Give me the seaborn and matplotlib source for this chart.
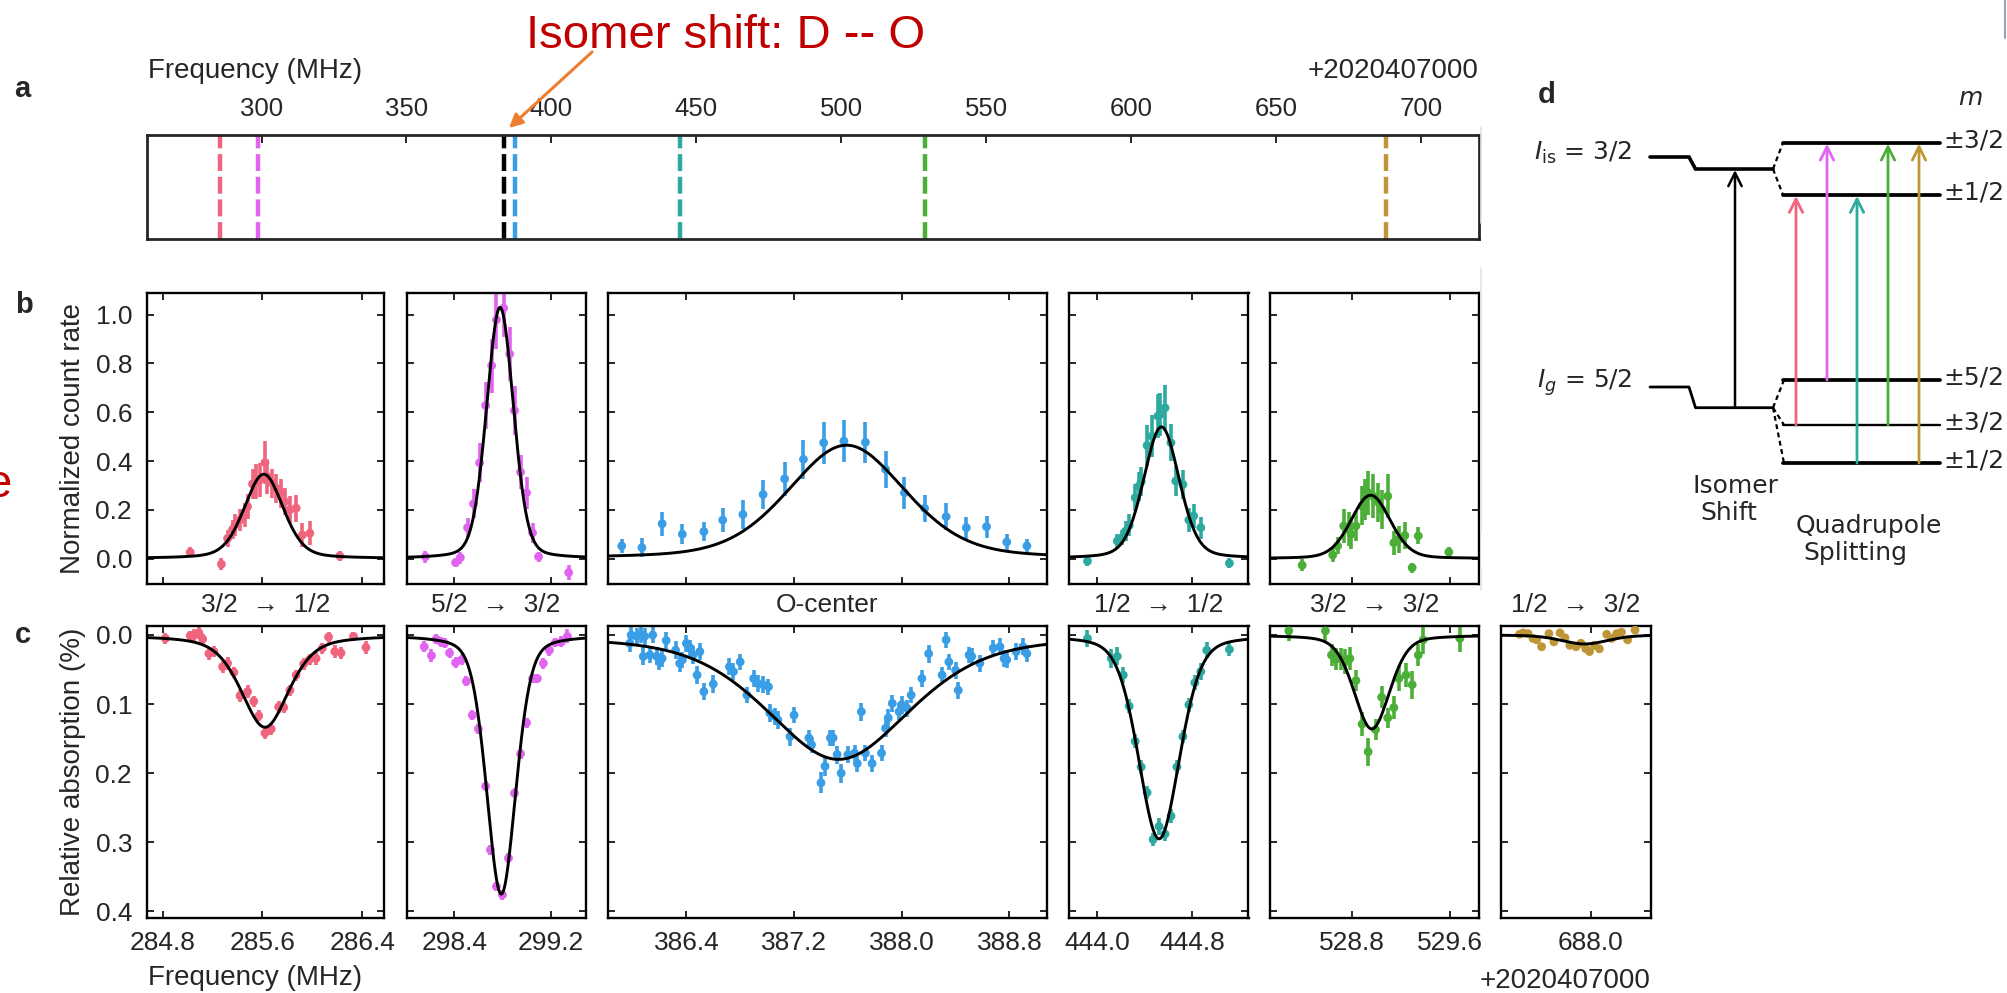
import numpy as np
import matplotlib
matplotlib.use("Agg")
import matplotlib.pyplot as plt
from matplotlib.ticker import MultipleLocator, FormatStrFormatter
import seaborn as sns

# ------------------------------------------------------------------ data
FREQ_OFFSET = "+2020407000"

# panel a: resonance positions (MHz, relative to offset)
overview_freq = [285.6, 298.8, 383.5, 387.5, 444.5, 528.9, 688.0]
overview_color = ["#F0647D", "#E164F0", "#000000", "#3A9EE6", "#2DAAA0", "#4BAF37", "#BE9637"]
overview_ticks = [300, 350, 400, 450, 500, 550, 600, 650, 700]

series_color = ["#F0647D", "#E164F0", "#3A9EE6", "#2DAAA0", "#4BAF37", "#BE9637"]
transition_labels = ["3/2  \u2192  1/2", "5/2  \u2192  3/2", "O-center",
                     "1/2  \u2192  1/2", "3/2  \u2192  3/2", "1/2  \u2192  3/2"]

# panel b: normalized count rate
b1_x = [285.02, 285.27, 285.32, 285.36, 285.38, 285.42, 285.46, 285.48, 285.52, 285.55, 285.58,
        285.62, 285.64, 285.68, 285.71, 285.75, 285.78, 285.82, 285.87, 285.92, 285.98, 286.22]
b1_y = [0.026, -0.023, 0.083, 0.12, 0.138, 0.159, 0.179, 0.213, 0.306, 0.316, 0.323,
        0.394, 0.336, 0.309, 0.289, 0.268, 0.234, 0.2, 0.207, 0.097, 0.104, 0.011]
b1_e = [0.02, 0.025, 0.035, 0.04, 0.045, 0.045, 0.05, 0.05, 0.06, 0.07, 0.07,
        0.09, 0.07, 0.06, 0.06, 0.06, 0.055, 0.055, 0.055, 0.05, 0.05, 0.02]

b2_x = [298.16, 298.41, 298.45, 298.51, 298.56, 298.61, 298.66, 298.71, 298.75,
        298.81, 298.86, 298.90, 298.95, 299.00, 299.05, 299.10, 299.35]
b2_y = [0.008, -0.016, 0.004, 0.127, 0.225, 0.393, 0.628, 0.791, 0.979,
        1.027, 0.839, 0.607, 0.355, 0.27, 0.106, 0.008, -0.057]
b2_e = [0.025, 0.02, 0.025, 0.04, 0.06, 0.08, 0.095, 0.11, 0.12,
        0.12, 0.11, 0.1, 0.07, 0.065, 0.04, 0.02, 0.03]

b3_x = [385.92, 386.07, 386.22, 386.37, 386.53, 386.67, 386.82, 386.97, 387.13, 387.27, 387.42,
        387.57, 387.73, 387.88, 388.02, 388.17, 388.33, 388.48, 388.63, 388.78, 388.93]
b3_y = [0.052, 0.045, 0.143, 0.1, 0.111, 0.158, 0.181, 0.263, 0.327, 0.407, 0.475,
        0.482, 0.477, 0.366, 0.27, 0.206, 0.172, 0.127, 0.131, 0.068, 0.052]
b3_e = [0.03, 0.04, 0.05, 0.04, 0.04, 0.05, 0.06, 0.06, 0.07, 0.08, 0.085,
        0.085, 0.085, 0.075, 0.065, 0.055, 0.055, 0.045, 0.045, 0.035, 0.03]

b4_x = [443.92, 444.17, 444.21, 444.24, 444.27, 444.32, 444.35, 444.37, 444.42, 444.46,
        444.51, 444.53, 444.57, 444.62, 444.66, 444.72, 444.77, 444.81, 444.87, 445.11]
b4_y = [-0.01, 0.072, 0.086, 0.113, 0.136, 0.25, 0.297, 0.315, 0.464, 0.502,
        0.584, 0.591, 0.618, 0.475, 0.318, 0.304, 0.158, 0.175, 0.127, -0.019]
b4_e = [0.02, 0.03, 0.03, 0.04, 0.045, 0.055, 0.06, 0.06, 0.085, 0.085,
        0.09, 0.09, 0.095, 0.075, 0.06, 0.06, 0.05, 0.05, 0.045, 0.02]

b5_x = [528.39, 528.64, 528.68, 528.73, 528.77, 528.79, 528.83, 528.88, 528.90, 528.93,
        528.97, 529.01, 529.04, 529.09, 529.14, 529.18, 529.23, 529.29, 529.34, 529.59]
b5_y = [-0.027, 0.015, 0.052, 0.134, 0.12, 0.1, 0.134, 0.216, 0.243, 0.27,
        0.256, 0.232, 0.202, 0.256, 0.065, 0.079, 0.095, -0.037, 0.093, 0.027]
b5_e = [0.025, 0.03, 0.035, 0.07, 0.07, 0.06, 0.06, 0.08, 0.085, 0.09,
        0.09, 0.08, 0.08, 0.09, 0.05, 0.055, 0.055, 0.02, 0.035, 0.02]

# panel c: relative absorption (%)
c1_x = [284.82, 285.02, 285.05, 285.09, 285.12, 285.17, 285.21, 285.28, 285.32, 285.37,
        285.42, 285.48, 285.53, 285.57, 285.62, 285.67, 285.73, 285.77, 285.82, 285.87,
        285.93, 285.98, 286.03, 286.08, 286.13, 286.18, 286.23, 286.33, 286.43]
c1_y = [0.005, 0.001, 0.0, -0.003, 0.006, 0.027, 0.024, 0.046, 0.041, 0.054,
        0.088, 0.082, 0.096, 0.117, 0.142, 0.136, 0.104, 0.105, 0.08, 0.058,
        0.042, 0.035, 0.034, 0.019, 0.003, 0.024, 0.026, 0.002, 0.018]
c1_e = [0.008, 0.007, 0.008, 0.009, 0.008, 0.009, 0.008, 0.009, 0.009, 0.008,
        0.009, 0.009, 0.008, 0.008, 0.009, 0.009, 0.009, 0.008, 0.008, 0.008,
        0.008, 0.008, 0.009, 0.008, 0.008, 0.009, 0.009, 0.007, 0.009]

c2_x = [298.15, 298.21, 298.25, 298.29, 298.32, 298.36, 298.41, 298.46, 298.50, 298.55,
        298.60, 298.66, 298.70, 298.75, 298.80, 298.85, 298.90, 298.95, 299.00, 299.05,
        299.09, 299.14, 299.19, 299.24, 299.29, 299.34]
c2_y = [0.017, 0.03, 0.006, 0.01, 0.012, 0.026, 0.04, 0.036, 0.067, 0.116,
        0.136, 0.219, 0.311, 0.364, 0.376, 0.323, 0.229, 0.172, 0.127, 0.063,
        0.063, 0.041, 0.022, 0.011, 0.01, 0.002]
c2_e = [0.008, 0.009, 0.007, 0.007, 0.007, 0.007, 0.008, 0.008, 0.007, 0.007,
        0.007, 0.007, 0.007, 0.007, 0.007, 0.007, 0.007, 0.007, 0.007, 0.007,
        0.007, 0.008, 0.008, 0.007, 0.008, 0.010]

c3_x = [385.98, 385.99, 386.03, 386.06, 386.08, 386.09, 386.13, 386.15, 386.18, 386.20,
        386.22, 386.25, 386.32, 386.35, 386.37, 386.40, 386.43, 386.45, 386.48, 386.50,
        386.53, 386.60, 386.72, 386.75, 386.80, 386.85, 386.90, 386.93, 386.97, 387.01,
        387.02, 387.06, 387.08, 387.17, 387.20, 387.31, 387.33, 387.40, 387.43, 387.47,
        387.49, 387.52, 387.55, 387.60, 387.65, 387.67, 387.70, 387.73, 387.78, 387.85,
        387.88, 387.90, 387.93, 387.98, 388.00, 388.04, 388.07, 388.15, 388.20, 388.30,
        388.33, 388.35, 388.40, 388.42, 388.50, 388.52, 388.58, 388.68, 388.73, 388.76,
        388.78, 388.85, 388.90, 388.93]
c3_y = [0.012, 0.0, 0.002, -0.001, 0.031, 0.002, 0.029, 0.0, 0.031, 0.039,
        0.034, 0.008, 0.022, 0.041, 0.036, 0.012, 0.019, 0.029, 0.058, 0.024,
        0.082, 0.071, 0.046, 0.053, 0.039, 0.087, 0.063, 0.07, 0.072, 0.075,
        0.113, 0.118, 0.123, 0.147, 0.116, 0.149, 0.159, 0.214, 0.19, 0.149,
        0.149, 0.173, 0.2, 0.173, 0.171, 0.186, 0.111, 0.171, 0.186, 0.171,
        0.135, 0.12, 0.099, 0.111, 0.101, 0.106, 0.087, 0.063, 0.027, 0.058,
        0.007, 0.039, 0.051, 0.08, 0.029, 0.031, 0.041, 0.019, 0.017, 0.034,
        0.036, 0.024, 0.017, 0.027]
c3_e = [0.013, 0.015, 0.012, 0.012, 0.013, 0.012, 0.012, 0.012, 0.013, 0.012,
        0.012, 0.012, 0.013, 0.013, 0.012, 0.012, 0.012, 0.013, 0.013, 0.012,
        0.012, 0.013, 0.012, 0.012, 0.012, 0.012, 0.012, 0.012, 0.012, 0.012,
        0.013, 0.013, 0.013, 0.013, 0.012, 0.012, 0.012, 0.015, 0.014, 0.012,
        0.012, 0.013, 0.014, 0.012, 0.012, 0.013, 0.013, 0.012, 0.013, 0.012,
        0.013, 0.013, 0.012, 0.012, 0.013, 0.012, 0.012, 0.012, 0.013, 0.012,
        0.012, 0.012, 0.012, 0.012, 0.012, 0.012, 0.012, 0.012, 0.012, 0.012,
        0.012, 0.012, 0.012, 0.012]

c4_x = [443.92, 444.12, 444.17, 444.22, 444.27, 444.32, 444.37, 444.42, 444.47, 444.52,
        444.57, 444.62, 444.67, 444.72, 444.77, 444.82, 444.87, 444.92, 445.11]
c4_y = [0.005, 0.034, 0.031, 0.058, 0.103, 0.154, 0.191, 0.228, 0.296, 0.277,
        0.288, 0.262, 0.191, 0.147, 0.101, 0.069, 0.053, 0.022, 0.021]
c4_e = [0.012, 0.014, 0.013, 0.011, 0.01, 0.01, 0.01, 0.01, 0.01, 0.012,
        0.01, 0.01, 0.01, 0.01, 0.01, 0.011, 0.012, 0.012, 0.01]

c5_x = [528.28, 528.58, 528.63, 528.67, 528.71, 528.74, 528.78, 528.83, 528.88, 528.93,
        528.99, 529.04, 529.09, 529.14, 529.18, 529.24, 529.29, 529.34, 529.38, 529.68]
c5_y = [-0.006, -0.006, 0.029, 0.035, 0.035, 0.039, 0.034, 0.066, 0.129, 0.169,
        0.137, 0.09, 0.12, 0.105, 0.063, 0.058, 0.072, 0.029, 0.007, 0.005]
c5_e = [0.015, 0.014, 0.016, 0.016, 0.016, 0.018, 0.016, 0.015, 0.017, 0.02,
        0.015, 0.016, 0.014, 0.016, 0.018, 0.017, 0.02, 0.016, 0.02, 0.02]

c6_x = [687.42, 687.45, 687.49, 687.53, 687.56, 687.60, 687.66, 687.70, 687.75, 687.79,
        687.83, 687.88, 687.92, 687.96, 687.99, 688.03, 688.07, 688.13, 688.17, 688.21,
        688.25, 688.30, 688.36]
c6_y = [-0.001, -0.003, -0.002, 0.005, 0.007, 0.017, -0.002, 0.01, -0.003, 0.004,
        0.015, 0.017, 0.012, 0.02, 0.024, 0.015, 0.02, -0.001, 0.005, -0.002,
        -0.004, 0.007, -0.007]
c6_e = [0.004, 0.004, 0.004, 0.005, 0.004, 0.005, 0.004, 0.004, 0.004, 0.004,
        0.005, 0.004, 0.004, 0.005, 0.004, 0.004, 0.005, 0.004, 0.004, 0.004,
        0.004, 0.005, 0.004]

# fitted line-shape parameters (pseudo-Voigt)
b_fit_center = [285.61, 298.78, 387.59, 444.54, 528.95]
b_fit_amp = [0.346, 1.03, 0.465, 0.54, 0.26]
b_fit_fwhm = [0.37, 0.264, 1.03, 0.353, 0.38]
b_fit_eta = [0.3, 0.2, 0.3, 0.25, 0.2]

c_fit_center = [285.62, 298.79, 387.53, 444.52, 528.96, 687.95]
c_fit_depth = [0.1335, 0.375, 0.18, 0.295, 0.136, 0.013]
c_fit_fwhm = [0.46, 0.287, 1.28, 0.408, 0.344, 0.45]
c_fit_eta = [0.5, 0.3, 0.45, 0.3, 0.3, 0.3]

# panel d: level scheme
d_upper_levels = [142.7, 195.0]
d_lower_levels = [380.0, 425.0, 463.0]
d_upper_labels = ["\u00b13/2", "\u00b11/2"]
d_lower_labels = ["\u00b15/2", "\u00b13/2", "\u00b11/2"]
d_arrow_x = [1796, 1827, 1857, 1888, 1919]
d_arrow_from = [425.0, 380.0, 463.0, 425.0, 463.0]
d_arrow_to = [195.0, 142.7, 195.0, 142.7, 142.7]


def pseudo_voigt(x, x0, amp, fwhm, eta):
    u = (x - x0) / fwhm
    return amp * (eta / (1.0 + 4.0 * u ** 2) + (1.0 - eta) * np.exp(-4.0 * np.log(2.0) * u ** 2))


# ------------------------------------------------------------------ style
sns.set_style("ticks")
plt.rcParams["font.family"] = ["Liberation Sans", "DejaVu Sans"]
plt.rcParams["mathtext.fontset"] = "dejavusans"

W, H = 2008, 993


def px_rect(x0, x1, y0, y1):
    return [x0 / W, 1 - y1 / H, (x1 - x0) / W, (y1 - y0) / H]


fig = plt.figure(figsize=(W / 100, H / 100), dpi=100)

# ------------------------------------------------------------------ panel a
axA = fig.add_axes(px_rect(147, 1479, 135, 239))
for f, col in zip(overview_freq, overview_color):
    axA.axvline(f, color=col, lw=3.2, dashes=(3.8, 1.3))
axA.set_xlim(260.5, 720)
axA.set_ylim(0, 1)
axA.set_yticks([])
axA.xaxis.tick_top()
axA.set_xticks(overview_ticks)
axA.tick_params(axis="x", direction="in", length=6, width=1.4, labelsize=18.5, pad=10,
                top=True, bottom=False, labeltop=True, labelbottom=False)
for s in axA.spines.values():
    s.set_linewidth(2.0)

# ------------------------------------------------------------------ panels b and c
b_data = [(b1_x, b1_y, b1_e), (b2_x, b2_y, b2_e), (b3_x, b3_y, b3_e),
          (b4_x, b4_y, b4_e), (b5_x, b5_y, b5_e)]
c_data = [(c1_x, c1_y, c1_e), (c2_x, c2_y, c2_e), (c3_x, c3_y, c3_e),
          (c4_x, c4_y, c4_e), (c5_x, c5_y, c5_e), (c6_x, c6_y, c6_e)]
panel_x_px = [(146.6, 384.0), (406.8, 585.5), (608.3, 1046.7), (1069.0, 1248.5),
              (1270.4, 1479.4), (1501.0, 1651.0)]
xlims = [(284.67, 286.575), (298.005, 299.49), (385.82, 389.077), (443.765, 445.27),
         (528.13, 529.84), (687.27, 688.49)]
B_Y = (293, 584)
C_Y = (626, 918)


def style_axis(ax):
    ax.tick_params(direction="in", top=True, right=True, length=5, width=1.4,
                   labelsize=19)
    ax.tick_params(axis="x", pad=9.5)
    ax.tick_params(axis="y", pad=10.5)
    for s in ax.spines.values():
        s.set_linewidth(1.7)
        s.set_color("black")


def draw_points(ax, xs, ys, es, col):
    ax.errorbar(xs, ys, yerr=es, fmt="none", ecolor=col, elinewidth=2.6, capsize=0, zorder=2)
    sns.scatterplot(x=xs, y=ys, ax=ax, color=col, s=40, edgecolor="none", linewidth=0,
                    zorder=3, legend=False)


for i in range(5):
    x0, x1 = panel_x_px[i]
    ax = fig.add_axes(px_rect(x0, x1, *B_Y))
    xs, ys, es = b_data[i]
    draw_points(ax, xs, ys, es, series_color[i])
    xf = np.linspace(xlims[i][0], xlims[i][1], 500)
    yf = pseudo_voigt(xf, b_fit_center[i], b_fit_amp[i], b_fit_fwhm[i], b_fit_eta[i])
    sns.lineplot(x=xf, y=yf, ax=ax, color="black", lw=2.1, zorder=4, estimator=None)
    ax.set_xlim(*xlims[i])
    ax.set_ylim(-0.104, 1.089)
    ax.xaxis.set_major_locator(MultipleLocator(0.8))
    ax.yaxis.set_major_locator(MultipleLocator(0.2))
    ax.yaxis.set_major_formatter(FormatStrFormatter("%.1f"))
    style_axis(ax)
    ax.tick_params(labelbottom=False)
    if i > 0:
        ax.tick_params(labelleft=False)
        ax.set_ylabel("")
    else:
        ax.set_ylabel("Normalized count rate", fontsize=20)
        ax.yaxis.set_label_coords((80 - x0) / (x1 - x0), 0.5)
        ax.yaxis.label.set_va("baseline")
    ax.set_xlabel(transition_labels[i], fontsize=19)
    ax.xaxis.set_label_coords(0.5, -(612 - B_Y[1]) / (B_Y[1] - B_Y[0]))
    ax.xaxis.label.set_va("baseline")

for i in range(6):
    x0, x1 = panel_x_px[i]
    ax = fig.add_axes(px_rect(x0, x1, *C_Y))
    xs, ys, es = c_data[i]
    draw_points(ax, xs, ys, es, series_color[i])
    xf = np.linspace(xlims[i][0], xlims[i][1], 500)
    yf = pseudo_voigt(xf, c_fit_center[i], c_fit_depth[i], c_fit_fwhm[i], c_fit_eta[i])
    sns.lineplot(x=xf, y=yf, ax=ax, color="black", lw=2.1, zorder=4, estimator=None)
    ax.set_xlim(*xlims[i])
    ax.set_ylim(0.4096, -0.013)
    ax.xaxis.set_major_locator(MultipleLocator(0.8))
    ax.xaxis.set_major_formatter(FormatStrFormatter("%.1f"))
    ax.yaxis.set_major_locator(MultipleLocator(0.1))
    ax.yaxis.set_major_formatter(FormatStrFormatter("%.1f"))
    style_axis(ax)
    ax.set_xlabel("")
    if i > 0:
        ax.tick_params(labelleft=False)
        ax.set_ylabel("")
    else:
        ax.set_ylabel("Relative absorption (%)", fontsize=20)
        ax.yaxis.set_label_coords((80 - x0) / (x1 - x0), 0.5)
        ax.yaxis.label.set_va("baseline")
    if i == 5:
        ax.text(0.5, 1 + (C_Y[0] - 612) / (C_Y[1] - C_Y[0]), transition_labels[5],
                transform=ax.transAxes, ha="center", va="baseline", fontsize=19)

# ------------------------------------------------------------------ overlay (text + panel d)
ov = fig.add_axes([0, 0, 1, 1], zorder=10)
ov.set_xlim(0, W)
ov.set_ylim(H, 0)
ov.axis("off")

ov.text(725.5, 48, "Isomer shift: D -- O", color="#C00000", fontsize=34,
        ha="center", va="baseline")
ov.annotate("", xy=(509, 128), xytext=(592, 52),
            arrowprops=dict(arrowstyle="-|>", color="#ED7D31", lw=2.2,
                            mutation_scale=20, shrinkA=0, shrinkB=0))
ov.text(12, 497, "e", color="#C00000", fontsize=34, ha="right", va="baseline")

ov.text(148, 78, "Frequency (MHz)", fontsize=20, ha="left", va="baseline")
ov.text(1479, 78, FREQ_OFFSET, fontsize=20, ha="right", va="baseline")
ov.text(148, 985, "Frequency (MHz)", fontsize=20, ha="left", va="baseline")
ov.text(1651, 988, FREQ_OFFSET, fontsize=20, ha="right", va="baseline")
ov.text(725.5, 612, "", fontsize=1)

for letter, (lx, ly) in zip(["a", "b", "c", "d"],
                            [(14, 97), (15, 313), (15, 643), (1538, 103)]):
    ov.text(lx, ly, letter, fontsize=21, fontweight="bold", ha="left", va="baseline")

# faint frame remnants
for y0, y1 in [(127, 223), (268, 533), (568, 590)]:
    ov.plot([1481, 1481], [y0, y1], color="#E3E3E3", lw=1.2)
ov.plot([2005, 2005], [0, 38], color="#8CA5BF", lw=1.5)

# panel d level scheme
DJ = "DejaVu Sans"
ov.plot([1650, 1689, 1695.5, 1773], [157, 157, 169, 169], color="black", lw=2.6,
        solid_joinstyle="miter")
ov.plot([1650, 1689, 1695.5, 1773], [387, 387, 407.7, 407.7], color="black", lw=2.0)
for yl in d_upper_levels:
    ov.plot([1773, 1783], [169, yl], color="black", lw=1.6, dashes=(2.2, 1.6))
for yl in d_lower_levels:
    ov.plot([1773, 1784], [407.7, yl], color="black", lw=1.6, dashes=(2.2, 1.6))
for yl, lab in zip(d_upper_levels, d_upper_labels):
    ov.plot([1783, 1940], [yl, yl], color="black", lw=2.7)
    ov.text(1943, yl + 4.5, lab, fontsize=18, family=DJ, ha="left", va="baseline")
for yl, lab, lw in zip(d_lower_levels, d_lower_labels, [2.7, 1.7, 2.7]):
    ov.plot([1783, 1940], [yl, yl], color="black", lw=lw)
    ov.text(1943, yl + 4.5, lab, fontsize=18, family=DJ, ha="left", va="baseline")

ov.annotate("", xy=(1735, 170), xytext=(1735, 407.7),
            arrowprops=dict(arrowstyle="->", color="black", lw=1.8,
                            mutation_scale=24, shrinkA=0, shrinkB=0))
for xa, y_from, y_to, col in zip(d_arrow_x, d_arrow_from, d_arrow_to, series_color[:1] + series_color[1:2] + series_color[3:6]):
    ov.annotate("", xy=(xa, y_to + 1), xytext=(xa, y_from),
                arrowprops=dict(arrowstyle="->", color=col, lw=2.0,
                                mutation_scale=24, shrinkA=0, shrinkB=0))

ov.text(1631.5, 160, r"$I_{\mathrm{is}}$ = 3/2", fontsize=18, family=DJ, ha="right", va="baseline")
ov.text(1631.5, 388, r"$I_{g}$ = 5/2", fontsize=18, family=DJ, ha="right", va="baseline")
ov.text(1958, 105, "m", fontsize=18, family=DJ, fontstyle="italic", ha="left", va="baseline")
ov.text(1736, 493, "Isomer", fontsize=18, family=DJ, ha="center", va="baseline")
ov.text(1729, 520, "Shift", fontsize=18, family=DJ, ha="center", va="baseline")
ov.text(1869, 533, "Quadrupole", fontsize=18, family=DJ, ha="center", va="baseline")
ov.text(1855, 560, "Splitting", fontsize=18, family=DJ, ha="center", va="baseline")

fig.savefig("out.png", dpi=100)
